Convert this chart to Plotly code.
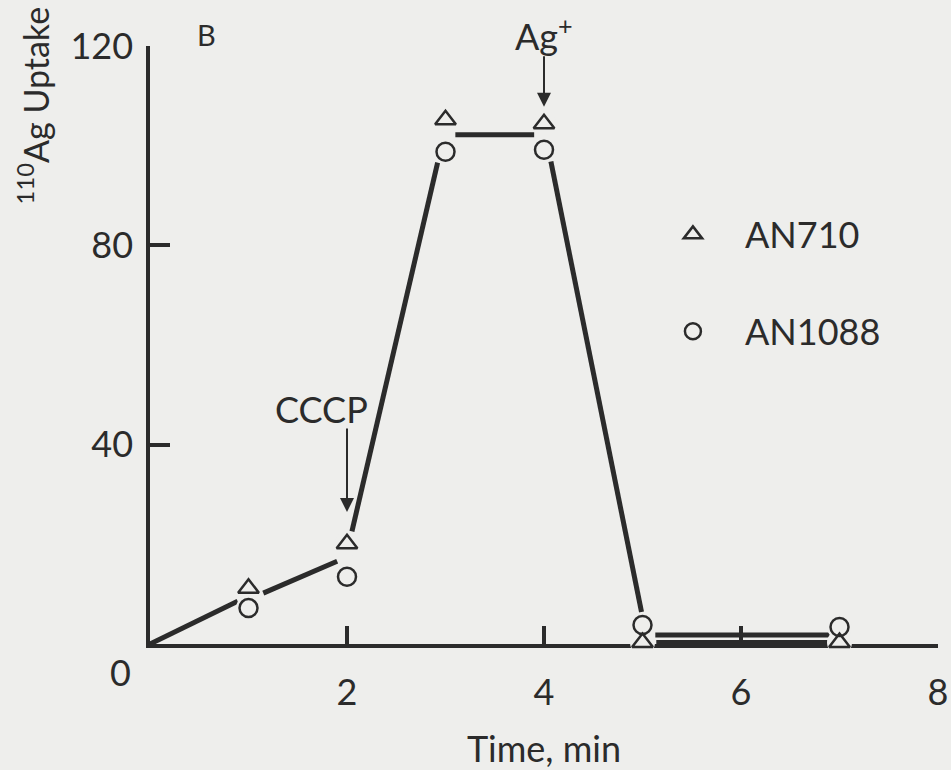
import plotly.graph_objects as go

# ---- data ----
time_min = [1, 2, 3, 4, 5, 7]
an710 = [11.2, 20.1, 105.2, 104.4, 0.3, 0.3]
an1088 = [7.2, 13.5, 98.8, 99.2, 3.8, 3.4]

# hand-drawn curve through the points (segments, gaps around the symbols)
curve_t = [0, 0.89, None, 1.15, 1.9, None, 2.05, 2.92, None, 3.1, 3.9, None,
           4.07, 4.99, None, 5.13, 6.93, None, 5.14, 6.88]
curve_y = [0, 8.6, None, 10.2, 16.6, None, 22.6, 96.6, None, 102.2, 102.2, None,
           96.8, 6.4, None, 1.8, 1.8, None, 0.3, 0.3]

x_ticks = [2, 4, 6, 8]
y_ticks = [40, 80, 120]

INK = "#2b2b2b"
BG = "#eeeeec"
FONT = "Lato"

fig = go.Figure()

fig.add_trace(go.Scatter(x=curve_t, y=curve_y, mode="lines",
                         line=dict(color=INK, width=5), showlegend=False,
                         hoverinfo="skip", cliponaxis=False))

# background halos (break the axis line around the symbols)
for ys in (an710, an1088):
    fig.add_trace(go.Scatter(x=time_min, y=ys, mode="markers",
                             marker=dict(symbol="circle", size=25, color=BG,
                                         line=dict(width=0)),
                             showlegend=False, hoverinfo="skip", cliponaxis=False))

fig.add_trace(go.Scatter(x=time_min, y=an710, mode="markers", name="AN710",
                         legendgroup="a",
                         marker=dict(symbol="triangle-up-open", size=18,
                                     color=INK, line=dict(width=2.5, color=INK)),
                         cliponaxis=False))
fig.add_trace(go.Scatter(x=time_min, y=an1088, mode="markers", name="AN1088",
                         legendgroup="b",
                         marker=dict(symbol="circle-open", size=18,
                                     color=INK, line=dict(width=2.5, color=INK)),
                         cliponaxis=False))

fig.update_layout(
    width=951, height=770,
    margin=dict(l=150, r=13, t=46, b=126, autoexpand=False),
    paper_bgcolor=BG, plot_bgcolor=BG,
    font=dict(family=FONT, size=36, color=INK),
    showlegend=True,
    legend=dict(x=0.623, y=0.735, xanchor="left", yanchor="top",
                bgcolor="rgba(0,0,0,0)", font=dict(size=36, color=INK),
                traceorder="grouped", tracegroupgap=47, itemwidth=94),
    xaxis=dict(range=[0, 8], tickvals=x_ticks, ticks="inside", ticklen=18,
               tickwidth=3.5, tickcolor=INK, showline=True, linewidth=3.5,
               linecolor=INK, showgrid=False, zeroline=False, automargin=False,
               ticklabelstandoff=14, layer="below traces",
               title=dict(text="Time, min", standoff=34,
                          font=dict(size=36))),
    yaxis=dict(range=[0, 120], tickvals=y_ticks, ticks="inside", ticklen=20,
               tickwidth=3.5, tickcolor=INK, showline=True, linewidth=3.5,
               linecolor=INK, showgrid=False, zeroline=False, automargin=False,
               ticklabelstandoff=6, layer="below traces"),
)

fig.add_annotation(x=0, y=0, xref="x", yref="y", text="0", showarrow=False,
                   xshift=-30, yshift=-28, font=dict(size=36, color=INK))
fig.add_annotation(xref="paper", yref="paper", x=-0.148, y=1.0,
                   text="<sup>110</sup>Ag Uptake", textangle=-90,
                   showarrow=False, xanchor="center", yanchor="top",
                   yshift=42, font=dict(size=34, color=INK))
fig.add_annotation(xref="paper", yref="paper", x=(206 - 150) / 788,
                   y=(644 - 35) / 598, text="B", showarrow=False,
                   xanchor="center", yanchor="middle",
                   font=dict(size=29, color=INK))
# CCCP
fig.add_annotation(x=2, y=26.5, text="", showarrow=True, ax=0, ay=-85,
                   arrowhead=2, arrowsize=1.4, arrowwidth=2, arrowcolor=INK)
fig.add_annotation(x=2, y=26.5, text="CCCP", showarrow=False,
                   xshift=-26, yshift=103, font=dict(size=36, color=INK))
# Ag+
fig.add_annotation(x=4, y=107.8, text="", showarrow=True, ax=0, ay=-52,
                   arrowhead=2, arrowsize=1.4, arrowwidth=2, arrowcolor=INK)
fig.add_annotation(x=4, y=107.8, text="Ag<sup>+</sup>", showarrow=False,
                   xshift=0, yshift=73, font=dict(size=36, color=INK))

fig.write_html("out.html")
